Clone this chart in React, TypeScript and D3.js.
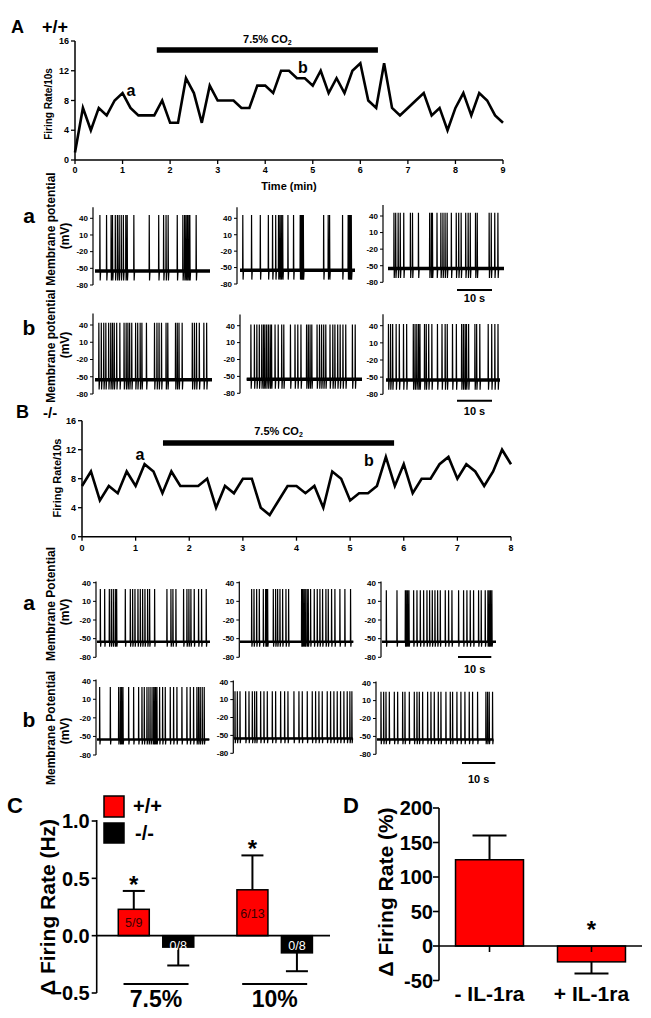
import React from 'react';
import * as d3 from 'd3';

const FONT = '"Liberation Sans", Arial, Helvetica, sans-serif';

// ---------------- Data: firing rate per 10-s bin ----------------
const rateA = [1, 7, 4, 7, 6, 8, 9, 7, 6, 6, 6, 8, 5, 5, 11, 9, 5, 10, 8, 8, 8, 7, 7, 10, 10, 9, 12, 12, 11, 11, 10, 12, 9, 11, 9, 12, 13, 8, 7, 13, 7, 6, 7, 8, 9, 6, 7, 4, 7, 9, 6, 9, 8, 6, 5];
const rateB = [7, 9, 5, 7, 6, 9, 7, 10, 9, 6, 9, 7, 7, 7, 8, 4, 7, 6, 8, 8, 4, 3, 5, 7, 7, 6, 7, 4, 9, 8, 5, 6, 6, 7, 11, 7, 10, 6, 8, 8, 10, 11, 8, 10, 9, 7, 9, 12, 10];
const binSeconds = 10;
const rateTicks = [0, 4, 8, 12, 16];
const timeTicksA = [0, 1, 2, 3, 4, 5, 6, 7, 8, 9];
const timeTicksB = [0, 1, 2, 3, 4, 5, 6, 7, 8];
const co2WindowA = [1.72, 6.37];
const co2WindowB = [1.51, 5.82];

// ---------------- Data: spike times (s) in example traces ----------------
const spikesAa1 = [1.4, 3.3, 4.6, 5.0, 5.8, 6.4, 6.9, 7.5, 8.1, 8.8, 9.2, 11.1, 15.5, 18.2, 19.6, 20.3, 20.9, 23.5, 25.1, 25.6, 26.0, 26.4, 26.8, 27.1, 28.9];
const spikesAa2 = [0.8, 3.3, 5.8, 8.1, 9.3, 10.2, 11.0, 11.4, 11.8, 12.2, 13.7, 15.3, 17.2, 17.5, 17.8, 18.1, 23.9, 25.2, 25.6, 29.3, 30.9, 31.2, 31.5, 31.8];
const spikesAa3 = [1.7, 2.2, 2.9, 3.5, 4.5, 6.4, 7.0, 8.7, 11.9, 12.4, 12.7, 14.0, 15.1, 15.7, 16.3, 16.9, 18.1, 19.5, 20.2, 20.9, 22.2, 22.9, 23.5, 25.0, 25.5, 28.9, 29.5, 30.5, 31.4];
const spikesAb1 = [1.1, 1.8, 2.5, 3.1, 3.9, 4.5, 5.0, 5.5, 6.2, 7.1, 8.3, 8.9, 9.4, 9.9, 10.5, 11.6, 12.2, 12.9, 13.4, 14.7, 17.0, 17.7, 18.3, 19.0, 20.3, 20.8, 23.0, 23.5, 24.0, 24.9, 27.8, 28.4, 29.0, 29.8, 31.1, 31.9];
const spikesAb2 = [1.2, 2.2, 2.9, 3.6, 4.3, 4.8, 5.2, 5.7, 6.2, 6.7, 7.1, 8.1, 9.0, 10.0, 10.6, 12.5, 13.8, 14.6, 15.5, 17.1, 17.6, 18.1, 18.6, 20.1, 20.8, 21.4, 22.0, 22.6, 23.8, 24.6, 25.2, 26.0, 26.7, 27.5, 28.3, 30.2, 31.0];
const spikesAb3 = [0.7, 1.3, 1.9, 2.9, 3.8, 5.0, 5.9, 7.8, 8.3, 8.8, 9.3, 9.7, 11.0, 11.5, 12.2, 13.1, 14.7, 16.0, 16.9, 17.5, 19.0, 20.1, 21.6, 22.1, 22.6, 23.0, 23.6, 25.4, 25.9, 26.8, 29.2, 30.2, 31.1, 32.0];
const spikesBa1 = [1.0, 2.3, 3.7, 4.3, 4.9, 5.5, 5.9, 8.5, 10.0, 10.7, 11.4, 12.3, 13.0, 13.7, 14.4, 15.2, 15.8, 17.3, 21.0, 22.2, 22.8, 23.7, 26.0, 27.0, 27.6, 28.2, 29.2, 30.5, 31.4, 32.8];
const spikesBa2 = [3.5, 4.2, 5.0, 5.8, 7.0, 7.7, 8.0, 8.3, 10.0, 10.7, 11.3, 12.0, 12.8, 13.8, 14.6, 18.5, 18.8, 19.2, 19.6, 20.1, 20.5, 21.2, 22.3, 23.2, 24.0, 24.8, 25.8, 26.5, 27.5, 28.5, 30.0, 31.5, 33.2];
const spikesBa3 = [1.3, 4.5, 7.0, 7.3, 7.7, 8.1, 9.5, 10.5, 11.5, 12.5, 13.5, 14.3, 15.1, 15.9, 16.7, 17.5, 19.0, 20.0, 21.0, 23.0, 24.5, 25.5, 26.5, 27.5, 29.0, 29.8, 31.0, 31.8, 32.2, 32.6, 33.0];
const spikesBb1 = [0.8, 4.0, 6.5, 7.0, 7.4, 7.8, 9.5, 11.0, 12.5, 13.5, 14.2, 15.0, 15.6, 16.2, 16.8, 17.2, 17.6, 18.0, 18.8, 19.7, 20.5, 22.0, 23.0, 24.0, 25.5, 27.0, 28.0, 29.0, 30.0, 30.5, 31.0, 31.6, 32.2];
const spikesBb2 = [0.3, 1.0, 1.8, 3.5, 4.5, 5.5, 6.2, 6.8, 8.0, 9.0, 10.0, 11.5, 12.5, 14.0, 15.2, 16.2, 18.0, 19.5, 20.5, 22.0, 23.5, 24.5, 25.5, 26.5, 28.0, 29.0, 30.0, 31.0, 32.0, 33.0, 34.0, 34.8, 35.4];
const spikesBb3 = [1.2, 2.0, 2.7, 3.7, 5.2, 6.2, 7.7, 8.4, 9.7, 11.2, 12.0, 12.7, 13.7, 15.2, 16.2, 17.2, 18.4, 19.2, 20.7, 22.0, 22.7, 24.0, 25.2, 26.4, 27.7, 28.7, 30.2, 32.7, 33.2, 33.7, 34.7];
const peaksA = [46, 46, 46, 44, 42, 43];
const peaksB = [30, 30, 28, 30, 24, 25];
const mvTicks = [40, 10, -20, -50, -80];

// ---------------- Data: panel C ----------------
const groupsC = ['7.5%', '10%'];
const genotypes = ['+/+', '-/-'];
const wtMean = [0.23, 0.40];
const wtSem = [0.16, 0.30];
const wtN = ['5/9', '6/13'];
const koMean = [-0.10, -0.15];
const koSem = [0.16, 0.16];
const koN = ['0/8', '0/8'];
const wtSig = [true, true];
const ticksC = [-0.5, 0, 0.5, 1.0];

// ---------------- Data: panel D ----------------
const condD = ['- IL-1ra', '+ IL-1ra'];
const meanD = [125, -23];
const semD = [35, 17];
const sigD = [false, true];
const ticksD = [-50, 0, 50, 100, 150, 200];

const RED = '#ff0000';

function RateChart(p: any) {
  const x = d3.scaleLinear([0, p.xTicks[p.xTicks.length - 1]], p.xr);
  const y = d3.scaleLinear([0, 16], p.yr);
  const pts = p.values.map((v: number, i: number) => [(i * binSeconds) / 60, v]);
  const line = d3.line<any>().x((d) => x(d[0])).y((d) => y(d[1]));
  const x0 = p.xr[0];
  const y0 = p.yr[0];
  return (
    <g>
      <line x1={x0} x2={x0} y1={y(0)} y2={y(16)} stroke="#000" strokeWidth={1.5} />
      <line x1={x0} x2={p.xr[1]} y1={y0} y2={y0} stroke="#000" strokeWidth={1.5} />
      {rateTicks.map((t) => (
        <g key={'y' + t}>
          <line x1={x0 - 4} x2={x0} y1={y(t)} y2={y(t)} stroke="#000" strokeWidth={1.3} />
          <text x={x0 - 6} y={y(t)} dy="0.35em" textAnchor="end" fontSize={9} fontWeight="bold">{t}</text>
        </g>
      ))}
      {p.xTicks.map((t: number) => (
        <g key={'x' + t}>
          <line x1={x(t)} x2={x(t)} y1={y0} y2={y0 + 4} stroke="#000" strokeWidth={1.3} />
          <text x={x(t)} y={p.tickY} dy="0.35em" textAnchor="middle" fontSize={9} fontWeight="bold">{t}</text>
        </g>
      ))}
      <path d={line(pts) || ''} fill="none" stroke="#000" strokeWidth={2.6} strokeLinejoin="miter" />
      <line x1={x(p.co2[0])} x2={x(p.co2[1])} y1={p.co2Y} y2={p.co2Y} stroke="#000" strokeWidth={5.5} />
      <text x={(x(p.co2[0]) + x(p.co2[1])) / 2} y={p.co2TextY} textAnchor="middle" fontSize={11} fontWeight="bold">
        <tspan>7.5% CO</tspan>
        <tspan fontSize={7} dy={2}>2</tspan>
      </text>
      {p.marks.map((m: any) => (
        <text key={m.id} x={m.x} y={m.y} textAnchor="middle" fontSize={16} fontWeight="bold">{m.id}</text>
      ))}
      <text transform={`translate(${p.ylabX},${p.ylabY}) rotate(-90)`} textAnchor="middle" dominantBaseline="central" fontSize={p.ylabSize} fontWeight="bold">Firing Rate/10s</text>
      {p.xLabel && (
        <text x={p.xLabel.x} y={p.xLabel.y} textAnchor="middle" fontSize={11} fontWeight="bold">Time (min)</text>
      )}
    </g>
  );
}

function Trace(p: any) {
  const L = p.lay;
  const dur = (L.end - L.start) / p.pps;
  const x = d3.scaleLinear([0, dur], [L.start, L.end]);
  const y = d3.scaleLinear([-80, 40], [L.y80, L.y40]);
  const base = -55;
  const pts: number[][] = [[0, base]];
  p.spikes.forEach((t: number) => {
    pts.push([t - 0.05, base], [t, p.peak], [t + 0.08, p.trough], [t + 0.22, base]);
  });
  pts.push([dur, base]);
  const line = d3.line<any>().x((d) => x(Math.min(dur, Math.max(0, d[0])))).y((d) => y(d[1]));
  return (
    <g>
      <line x1={L.axis} x2={L.axis} y1={y(-80)} y2={y(p.axisTop)} stroke="#000" strokeWidth={1.2} />
      {mvTicks.map((t) => (
        <g key={t}>
          <line x1={L.axis - 3} x2={L.axis} y1={y(t)} y2={y(t)} stroke="#000" strokeWidth={1} />
          <text x={L.axis - 5} y={y(t)} dy="0.35em" textAnchor="end" fontSize={8} fontWeight="bold">{t}</text>
        </g>
      ))}
      <line x1={L.start} x2={L.end} y1={y(base)} y2={y(base)} stroke="#000" strokeWidth={p.baseW} />
      <path d={line(pts) || ''} fill="none" stroke="#000" strokeWidth={1.2} />
      {p.scaleBar && (
        <g>
          <line x1={p.scaleBar.x} x2={p.scaleBar.x + (x(10) - x(0))} y1={p.scaleBar.y} y2={p.scaleBar.y} stroke="#000" strokeWidth={2} />
          <text x={p.scaleBar.x + (x(10) - x(0)) / 2} y={p.scaleBar.ty} textAnchor="middle" fontSize={11} fontWeight="bold">10 s</text>
        </g>
      )}
    </g>
  );
}

function MPLabel({ x1, y1, x2, y2, text }: any) {
  return (
    <g>
      <text transform={`translate(${x1},${y1}) rotate(-90)`} textAnchor="middle" dominantBaseline="central" fontSize={12} fontWeight="bold">{text}</text>
      <text transform={`translate(${x2},${y2}) rotate(-90)`} textAnchor="middle" dominantBaseline="central" fontSize={12} fontWeight="bold">(mV)</text>
    </g>
  );
}

function PanelC() {
  const y = d3.scaleLinear([-0.5, 1.0], [993, 821]);
  const xg = d3.scaleBand(groupsC, [96.7, 334]);
  const xi = d3.scaleBand(genotypes, [0, 75.5]).paddingInner(0.303);
  const bw = xi.bandwidth();
  const ax = 96.7;
  const bars: any[] = [];
  groupsC.forEach((g, i) => {
    const gc = (xg(g) as number) + xg.bandwidth() / 2;
    const start = gc - 37.75;
    [
      { gt: '+/+', m: wtMean[i], s: wtSem[i], n: wtN[i], sig: wtSig[i] },
      { gt: '-/-', m: koMean[i], s: koSem[i], n: koN[i], sig: false },
    ].forEach((b) => {
      const bx = start + (xi(b.gt) as number);
      bars.push({ ...b, bx, cx: bx + bw / 2 });
    });
  });
  return (
    <g>
      <text x={7} y={813} fontSize={22} fontWeight="bold">C</text>
      <rect x={104} y={796} width={20} height={21} fill={RED} stroke="#000" strokeWidth={1.5} />
      <text x={133} y={813} fontSize={20} fontWeight="bold">+/+</text>
      <rect x={104} y={823} width={20} height={20} fill="#000" stroke="#000" strokeWidth={1.5} />
      <text x={135} y={840} fontSize={20} fontWeight="bold">-/-</text>
      <line x1={ax} x2={ax} y1={y(-0.5)} y2={y(1.0) - 1} stroke="#000" strokeWidth={1.6} />
      {ticksC.map((t) => (
        <g key={t}>
          <line x1={ax - 5} x2={ax} y1={y(t)} y2={y(t)} stroke="#000" strokeWidth={1.6} />
          <text x={ax - 7} y={y(t)} dy="0.36em" textAnchor="end" fontSize={20} fontWeight="bold">{d3.format('.1f')(t)}</text>
        </g>
      ))}
      <text transform={`translate(47,907) rotate(-90)`} textAnchor="middle" dominantBaseline="central" fontSize={21} fontWeight="bold">Δ Firing Rate (Hz)</text>
      {bars.map((b, k) => {
        const top = y(Math.max(0, b.m));
        const h = Math.abs(y(b.m) - y(0));
        const eEnd = y(b.m + (b.m >= 0 ? b.s : -b.s));
        return (
          <g key={k}>
            <line x1={b.cx} x2={b.cx} y1={y(b.m)} y2={eEnd} stroke="#000" strokeWidth={2} />
            <line x1={b.cx - 11} x2={b.cx + 11} y1={eEnd} y2={eEnd} stroke="#000" strokeWidth={2} />
            <rect x={b.bx} y={top} width={bw} height={h} fill={b.gt === '+/+' ? RED : '#000'} stroke="#000" strokeWidth={1.5} />
            <text x={b.cx} y={b.m >= 0 ? y(b.m) + h * 0.5 + 5 : y(0) + 14} textAnchor="middle" fontSize={12.5} fill={b.gt === '+/+' ? '#3a0000' : '#fff'}>{b.n}</text>
            {b.sig && (
              <text x={b.cx} y={eEnd - 12 + 14} textAnchor="middle" fontSize={24} fontWeight="bold">*</text>
            )}
          </g>
        );
      })}
      <line x1={ax} x2={330} y1={y(0)} y2={y(0)} stroke="#000" strokeWidth={1.6} />
      {groupsC.map((g) => {
        const gc = (xg(g) as number) + xg.bandwidth() / 2;
        return (
          <g key={g}>
            <line x1={gc - 32.5} x2={gc + 32.5} y1={984} y2={984} stroke="#000" strokeWidth={2} />
            <text x={gc} y={1007} textAnchor="middle" fontSize={23} fontWeight="bold">{g}</text>
          </g>
        );
      })}
    </g>
  );
}

function PanelD() {
  const y = d3.scaleLinear([-50, 200], [980.5, 808]);
  const x = d3.scaleBand(condD, [439, 642]).paddingInner(1 / 3).paddingOuter(0.162);
  const bw = x.bandwidth();
  const ax = 439;
  return (
    <g>
      <text x={343} y={813} fontSize={22} fontWeight="bold">D</text>
      <line x1={ax} x2={ax} y1={y(-50)} y2={y(200)} stroke="#000" strokeWidth={1.6} />
      {ticksD.map((t) => (
        <g key={t}>
          <line x1={ax - 6} x2={ax} y1={y(t)} y2={y(t)} stroke="#000" strokeWidth={1.6} />
          <text x={ax - 6} y={y(t)} dy="0.36em" textAnchor="end" fontSize={20} fontWeight="bold">{t}</text>
        </g>
      ))}
      <text transform={`translate(385,892) rotate(-90)`} textAnchor="middle" dominantBaseline="central" fontSize={21} fontWeight="bold">Δ Firing Rate (%)</text>
      {condD.map((c, i) => {
        const bx = x(c) as number;
        const cx = bx + bw / 2;
        const m = meanD[i];
        const top = y(Math.max(0, m));
        const h = Math.abs(y(m) - y(0));
        const eEnd = y(m + (m >= 0 ? semD[i] : -semD[i]));
        return (
          <g key={c}>
            <line x1={cx} x2={cx} y1={y(m)} y2={eEnd} stroke="#000" strokeWidth={2} />
            <line x1={cx - bw / 4} x2={cx + bw / 4} y1={eEnd} y2={eEnd} stroke="#000" strokeWidth={2} />
            <rect x={bx} y={top} width={bw} height={h} fill={RED} stroke="#000" strokeWidth={1.5} />
            <line x1={cx} x2={cx} y1={y(0)} y2={y(0) + 6} stroke="#000" strokeWidth={1.6} />
            <text x={cx} y={1001} textAnchor="middle" fontSize={21} fontWeight="bold">{c}</text>
            {sigD[i] && (
              <text x={cx} y={y(0) - 8} textAnchor="middle" fontSize={24} fontWeight="bold">*</text>
            )}
          </g>
        );
      })}
      <line x1={ax} x2={642} y1={y(0)} y2={y(0)} stroke="#000" strokeWidth={1.6} />
    </g>
  );
}

const layA = [
  { axis: 93, y40: 218.3, y80: 285, start: 95, end: 210 },
  { axis: 237, y40: 218.3, y80: 284, start: 240, end: 355 },
  { axis: 383, y40: 216, y80: 282.3, start: 388, end: 504 },
  { axis: 93, y40: 325, y80: 394, start: 95, end: 212 },
  { axis: 240, y40: 325.7, y80: 393.3, start: 246.7, end: 362 },
  { axis: 383, y40: 325.7, y80: 394.3, start: 386, end: 500 },
];
const layB = [
  { axis: 96, y40: 582.7, y80: 657.3, start: 97, end: 210 },
  { axis: 239.3, y40: 582.7, y80: 657.3, start: 240, end: 353.3 },
  { axis: 381, y40: 582.7, y80: 657.3, start: 382, end: 496 },
  { axis: 96, y40: 680.7, y80: 755, start: 97, end: 209.3 },
  { axis: 233.3, y40: 681.7, y80: 753.3, start: 234, end: 352.7 },
  { axis: 376, y40: 682.7, y80: 754.3, start: 377, end: 493.3 },
];
const spikesA = [spikesAa1, spikesAa2, spikesAa3, spikesAb1, spikesAb2, spikesAb3];
const spikesB = [spikesBa1, spikesBa2, spikesBa3, spikesBb1, spikesBb2, spikesBb3];

export default function App() {
  return (
    <svg width={651} height={1018} viewBox="0 0 651 1018" style={{ position: 'absolute', left: 0, top: 0, display: 'block' }} fontFamily={FONT}>
      <rect width={651} height={1018} fill="#fff" />
      {/* Panel A header */}
      <text x={11} y={33} fontSize={18} fontWeight="bold">A</text>
      <text x={42} y={33} fontSize={18} fontWeight="bold">+/+</text>
      <RateChart
        values={rateA}
        xTicks={timeTicksA}
        xr={[75, 503]}
        yr={[160, 41]}
        co2={co2WindowA}
        co2Y={50}
        co2TextY={43}
        tickY={170}
        marks={[{ id: 'a', x: 131, y: 96 }, { id: 'b', x: 303, y: 73 }]}
        ylabX={48}
        ylabY={104}
        ylabSize={10}
        xLabel={{ x: 289, y: 190 }}
      />
      {spikesA.map((s, i) => (
        <Trace key={'A' + i} spikes={s} lay={layA[i]} pps={3.5} peak={peaksA[i]} trough={-72} baseW={3.5} axisTop={60}
          scaleBar={i === 2 ? { x: 457, y: 290, ty: 302 } : i === 5 ? { x: 457, y: 400.7, ty: 415 } : null} />
      ))}
      <text x={29} y={223} textAnchor="middle" fontSize={21} fontWeight="bold">a</text>
      <text x={29} y={335} textAnchor="middle" fontSize={21} fontWeight="bold">b</text>
      <MPLabel x1={51} y1={229} x2={65} y2={236} text="Membrane potential" />
      <MPLabel x1={51} y1={346} x2={65} y2={345} text="Membrane potential" />

      {/* Panel B header */}
      <text x={16} y={418} fontSize={18} fontWeight="bold">B</text>
      <text x={43} y={418} fontSize={15} fontWeight="bold">-/-</text>
      <RateChart
        values={rateB}
        xTicks={timeTicksB}
        xr={[82, 511]}
        yr={[536.7, 420.7]}
        co2={co2WindowB}
        co2Y={443}
        co2TextY={435}
        tickY={548}
        marks={[{ id: 'a', x: 140, y: 460 }, { id: 'b', x: 369, y: 466 }]}
        ylabX={57}
        ylabY={478}
        ylabSize={11}
      />
      {spikesB.map((s, i) => (
        <Trace key={'B' + i} spikes={s} lay={layB[i]} pps={3.33} peak={peaksB[i]} trough={-63} baseW={2.5} axisTop={42}
          scaleBar={i === 2 ? { x: 458, y: 657, ty: 673 } : i === 5 ? { x: 462, y: 763, ty: 783 } : null} />
      ))}
      <text x={29} y={610} textAnchor="middle" fontSize={21} fontWeight="bold">a</text>
      <text x={29} y={727} textAnchor="middle" fontSize={21} fontWeight="bold">b</text>
      <MPLabel x1={51} y1={604} x2={65} y2={612} text="Membrane Potential" />
      <MPLabel x1={51} y1={728} x2={65} y2={731} text="Membrane Potential" />

      <PanelC />
      <PanelD />
    </svg>
  );
}
